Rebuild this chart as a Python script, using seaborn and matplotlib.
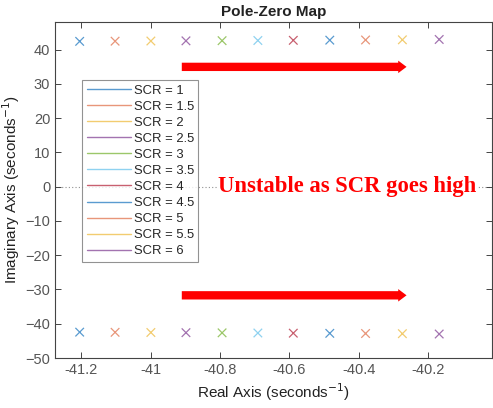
import numpy as np
import pandas as pd
import matplotlib
matplotlib.use("Agg")
import matplotlib.pyplot as plt
import seaborn as sns
from matplotlib.lines import Line2D

# ---- data ----
scr_labels = ["SCR = 1", "SCR = 1.5", "SCR = 2", "SCR = 2.5", "SCR = 3", "SCR = 3.5",
              "SCR = 4", "SCR = 4.5", "SCR = 5", "SCR = 5.5", "SCR = 6"]
pole_real = [-41.204, -41.102, -40.999, -40.898, -40.794, -40.691,
             -40.589, -40.484, -40.381, -40.275, -40.169]
pole_imag = [42.45, 42.50, 42.55, 42.60, 42.65, 42.70, 42.75, 42.80, 42.85, 42.90, 43.00]
colors = ["#5a9bd0", "#e8967a", "#f2cc70", "#a373b0", "#9cc76a", "#8fd2f0",
          "#c86070", "#5a9bd0", "#e8967a", "#f2cc70", "#a373b0"]
x_ticks = [-41.2, -41.0, -40.8, -40.6, -40.4, -40.2]
x_ticklabels = ["-41.2", "-41", "-40.8", "-40.6", "-40.4", "-40.2"]
y_ticks = [-50, -40, -30, -20, -10, 0, 10, 20, 30, 40]

df = pd.DataFrame({
    "re": pole_real + pole_real,
    "im": pole_imag + [-v for v in pole_imag],
    "scr": scr_labels + scr_labels,
})

sns.set_style("white")
plt.rcParams["font.family"] = ["Liberation Sans", "DejaVu Sans"]

fig = plt.figure(figsize=(4.93, 4.08), dpi=100)
ax = fig.add_axes([55 / 493, 1 - 358 / 408, 437 / 493, 336 / 408])

pal = dict(zip(scr_labels, colors))
sns.scatterplot(data=df, x="re", y="im", hue="scr", palette=pal, marker="x",
                s=38, linewidth=0.9, legend=False, ax=ax)

ax.set_xlim(-41.275, -40.017)
ax.set_ylim(-50, 48.1)
ax.set_xticks(x_ticks)
ax.set_xticklabels(x_ticklabels)
ax.set_yticks(y_ticks)
ax.axhline(0, color="#909090", linestyle=(0, (1, 2)), linewidth=0.8, zorder=0)

tick_col = "#555555"
ax.tick_params(direction="in", length=4, width=0.7, colors="#444444",
               labelcolor=tick_col, labelsize=10.5, top=True, right=True,
               bottom=True, left=True)
for sp in ax.spines.values():
    sp.set_color("#444444")
    sp.set_linewidth(0.8)

ax.set_title("Pole-Zero Map", fontsize=11, fontweight="bold", color="#222222", pad=4)
ax.set_xlabel("Real Axis (seconds$^{-1}$)", fontsize=11, color="#222222", labelpad=3)
ax.set_ylabel("Imaginary Axis (seconds$^{-1}$)", fontsize=11, color="#222222", labelpad=2)

# arrows
for yv in [35.0, -31.7]:
    ax.annotate("", xy=(-40.255, yv), xytext=(-40.918, yv),
                arrowprops=dict(arrowstyle="simple,head_length=0.6,head_width=0.9,tail_width=0.6",
                                color="red", lw=0))

ax.text(-40.434, 0, "Unstable as SCR goes high", color="red", fontsize=16.3,
        fontweight="bold", family=["Liberation Serif", "DejaVu Serif"],
        ha="center", va="center",
        bbox=dict(facecolor="white", edgecolor="none", pad=0.3))

handles = [Line2D([0], [0], color=c, lw=1.0) for c in colors]
leg = ax.legend(handles, scr_labels, loc="upper left", bbox_to_anchor=(27 / 437, 1 - 58 / 336),
                fontsize=9.4, frameon=True, fancybox=False, handlelength=3.4,
                handletextpad=0.2, labelspacing=0.3, borderpad=0.35, borderaxespad=0)
leg.get_frame().set_edgecolor("#777777")
leg.get_frame().set_linewidth(0.8)

fig.savefig("out.png", dpi=100)
